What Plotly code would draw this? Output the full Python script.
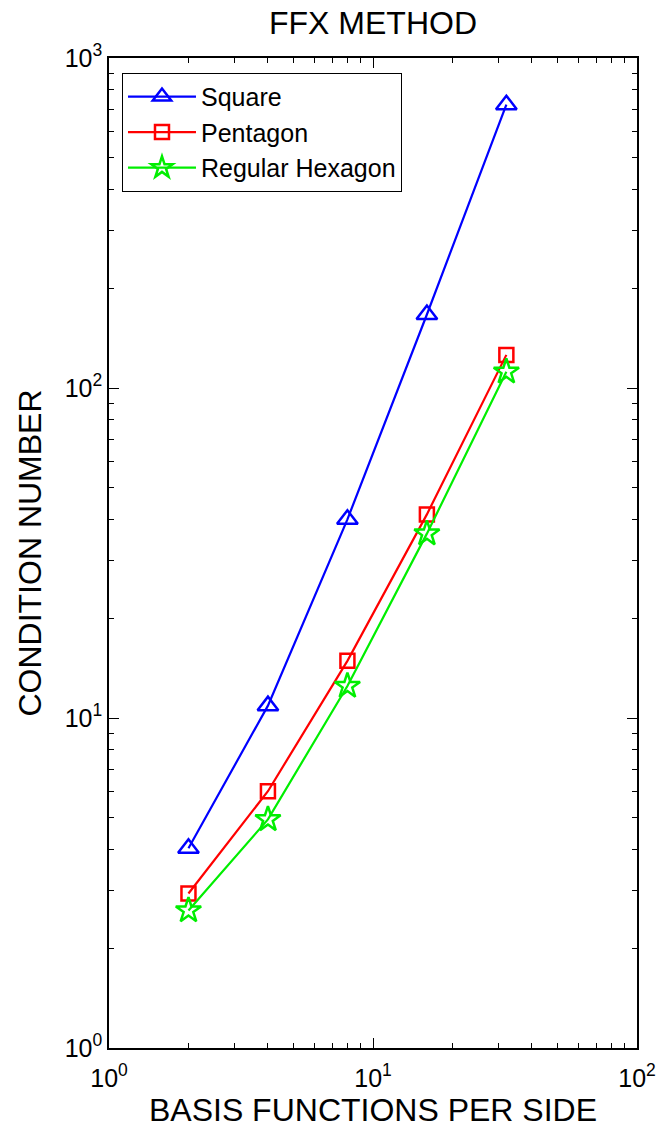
import plotly.graph_objects as go

x_vals = [2, 4, 8, 16, 32]
square = [4.03, 10.9, 40.0, 167.0, 722.0]
pentagon = [2.94, 6.0, 14.9, 41.4, 126.0]
hexagon = [2.61, 4.93, 12.5, 36.2, 112.0]
names = ["Square", "Pentagon", "Regular Hexagon"]
x_tick_vals = [1, 10, 100]
x_tick_text = ["10<sup>0</sup>", "10<sup>1</sup>", "10<sup>2</sup>"]
y_tick_vals = [1, 10, 100, 1000]
y_tick_text = ["10<sup>0</sup>", "10<sup>1</sup>", "10<sup>2</sup>", "10<sup>3</sup>"]

colors = ["#0000ff", "#ff0000", "#00ee00"]
symbols = ["triangle-up-open", "square-open", "star-open"]
sizes = [18, 14, 19]

def minor_vals(decades):
    return [m * 10 ** d for d in decades for m in range(2, 10)]

fig = go.Figure()
for name, ys, c, s, sz in zip(names, [square, pentagon, hexagon], colors, symbols, sizes):
    fig.add_trace(go.Scatter(
        x=x_vals, y=ys, name=name, mode="lines+markers",
        line=dict(color=c, width=2.2),
        marker=dict(symbol=s, size=sz, color=c, line=dict(width=2.5, color=c)),
    ))

font = "Liberation Sans, Arial, Helvetica, sans-serif"
axis_common = dict(
    type="log", showline=True, linecolor="black", linewidth=1.5,
    mirror="allticks", ticks="inside", ticklen=10, tickwidth=1,
    tickcolor="black", showgrid=False, zeroline=False, automargin=False,
    tickfont=dict(size=25, color="black", family=font),
)
fig.update_layout(
    width=659, height=1132,
    margin=dict(l=109, r=22, t=58, b=84),
    paper_bgcolor="white", plot_bgcolor="white",
    title=dict(text="FFX METHOD", x=0.566, xanchor="center", y=0.98, yanchor="middle",
               font=dict(size=32, color="black", family=font)),
    font=dict(family=font, color="black"),
    xaxis=dict(range=[0, 2], tickvals=x_tick_vals, ticktext=x_tick_text,
               ticklabelstandoff=7,
               minor=dict(tickvals=minor_vals([0, 1]), ticks="inside", ticklen=5,
                          tickcolor="black", showgrid=False),
               title=dict(text="BASIS FUNCTIONS PER SIDE", standoff=4,
                          font=dict(size=32, color="black", family=font)), **axis_common),
    yaxis=dict(range=[0, 3], tickvals=y_tick_vals, ticktext=y_tick_text,
               minor=dict(tickvals=minor_vals([0, 1, 2]), ticks="inside", ticklen=5,
                          tickcolor="black", showgrid=False),
               title=dict(text="CONDITION NUMBER", standoff=14,
                          font=dict(size=32, color="black", family=font)), **axis_common),
    legend=dict(x=0.0246, y=0.985, xanchor="left", yanchor="top",
                bgcolor="white", bordercolor="black", borderwidth=1,
                font=dict(size=25, color="black", family=font),
                itemwidth=68, tracegroupgap=0, entrywidth=300, entrywidthmode="pixels"),
    showlegend=True,
)
fig.write_html("out.html", config={"displayModeBar": False},
               post_script="document.body.style.margin='0';")
